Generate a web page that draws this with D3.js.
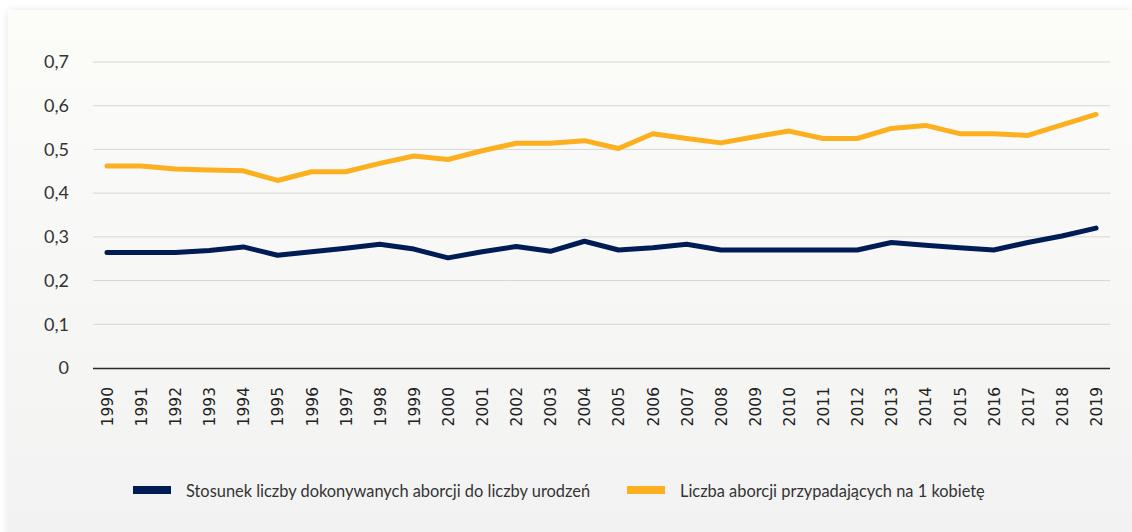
<!DOCTYPE html>
<html>
<head>
<meta charset="utf-8">
<script src="https://cdn.jsdelivr.net/npm/d3@7.9.0/dist/d3.min.js"></script>
<style>
  html, body { margin: 0; padding: 0; background: #ffffff; }
  #card {
    position: absolute; left: 8px; top: 10px; width: 1124px; height: 530px;
    background: linear-gradient(#fcfcf9, #f2f2f2);
    box-shadow: 0 0 8px rgba(0,0,0,0.10);
  }
  svg { position: absolute; left: 0; top: 0; }
</style>
</head>
<body>
<div id="card"></div>
<svg id="chart" width="1132" height="532"></svg>
<script>
// years on the x axis
const years = d3.range(1990, 2020).map(String);

// ratio of abortions to births
const ratioBirths = [
  0.264, 0.264, 0.264, 0.269, 0.277, 0.258, 0.266, 0.274, 0.283, 0.272,
  0.252, 0.266, 0.278, 0.267, 0.290, 0.270, 0.275, 0.283, 0.270, 0.270,
  0.270, 0.270, 0.270, 0.287, 0.281, 0.275, 0.270, 0.287, 0.302, 0.320
];

// abortions per woman
const perWoman = [
  0.462, 0.462, 0.455, 0.453, 0.451, 0.429, 0.449, 0.449, 0.468, 0.485,
  0.477, 0.497, 0.514, 0.514, 0.520, 0.502, 0.536, 0.525, 0.515, 0.529,
  0.542, 0.525, 0.525, 0.548, 0.555, 0.536, 0.536, 0.532, 0.556, 0.580
];

const yTicks = [0, 0.1, 0.2, 0.3, 0.4, 0.5, 0.6, 0.7];
const seriesNames = [
  'Stosunek liczby dokonywanych aborcji do liczby urodzeń',
  'Liczba aborcji przypadających na 1 kobietę'
];
const colors = ['#001c54', '#fdb01f'];

const svg = d3.select('#chart');

const x = d3.scalePoint()
  .domain(years)
  .range([93, 1110])
  .padding(0.41);

const y = d3.scaleLinear()
  .domain([0, 0.7])
  .range([368, 62]);

// gridlines
svg.append('g')
  .selectAll('line')
  .data(yTicks.filter(d => d > 0))
  .join('line')
  .attr('x1', 93).attr('x2', 1110)
  .attr('y1', d => y(d)).attr('y2', d => y(d))
  .attr('stroke', '#d6d6d6')
  .attr('stroke-width', 1);

// y labels
svg.append('g')
  .selectAll('text')
  .data(yTicks)
  .join('text')
  .attr('x', 69)
  .attr('y', d => y(d))
  .attr('dy', '0.35em')
  .attr('text-anchor', 'end')
  .attr('font-family', 'Lato')
  .attr('font-size', 18)
  .attr('fill', '#333')
  .text(d => d === 0 ? '0' : d3.format('.1f')(d).replace('.', ','));

// x axis
const xAxis = svg.append('g')
  .attr('transform', `translate(0,${y(0)})`)
  .call(d3.axisBottom(x).tickSize(0).tickSizeOuter(0));
xAxis.select('.domain')
  .attr('d', 'M93,0.5H1110')
  .attr('stroke', '#2b2b2b')
  .attr('stroke-width', 1.3);
xAxis.selectAll('text')
  .attr('font-family', 'DejaVu Sans')
  .attr('font-size', 15.5)
  .attr('fill', '#222')
  .attr('text-anchor', 'end')
  .attr('transform', 'rotate(-90)')
  .attr('x', -19)
  .attr('y', 0)
  .attr('dy', '0.35em');

// lines
const line = d3.line()
  .x((d, i) => x(years[i]))
  .y(d => y(d));

[ratioBirths, perWoman].forEach((vals, k) => {
  svg.append('path')
    .datum(vals)
    .attr('d', line)
    .attr('fill', 'none')
    .attr('stroke', colors[k])
    .attr('stroke-width', 5)
    .attr('stroke-linejoin', 'round')
    .attr('stroke-linecap', 'round');
});

// legend
const legendX = [133, 627];
const legend = svg.append('g')
  .selectAll('g')
  .data(seriesNames)
  .join('g')
  .attr('transform', (d, i) => `translate(${legendX[i]},490)`);
legend.append('rect')
  .attr('x', 0).attr('y', -4)
  .attr('width', 38).attr('height', 8)
  .attr('fill', (d, i) => colors[i]);
legend.append('text')
  .attr('x', 53).attr('y', 1)
  .attr('dy', '0.35em')
  .attr('font-family', 'Lato')
  .attr('font-size', 16.4)
  .attr('fill', '#333')
  .text(d => d);
</script>
</body>
</html>
